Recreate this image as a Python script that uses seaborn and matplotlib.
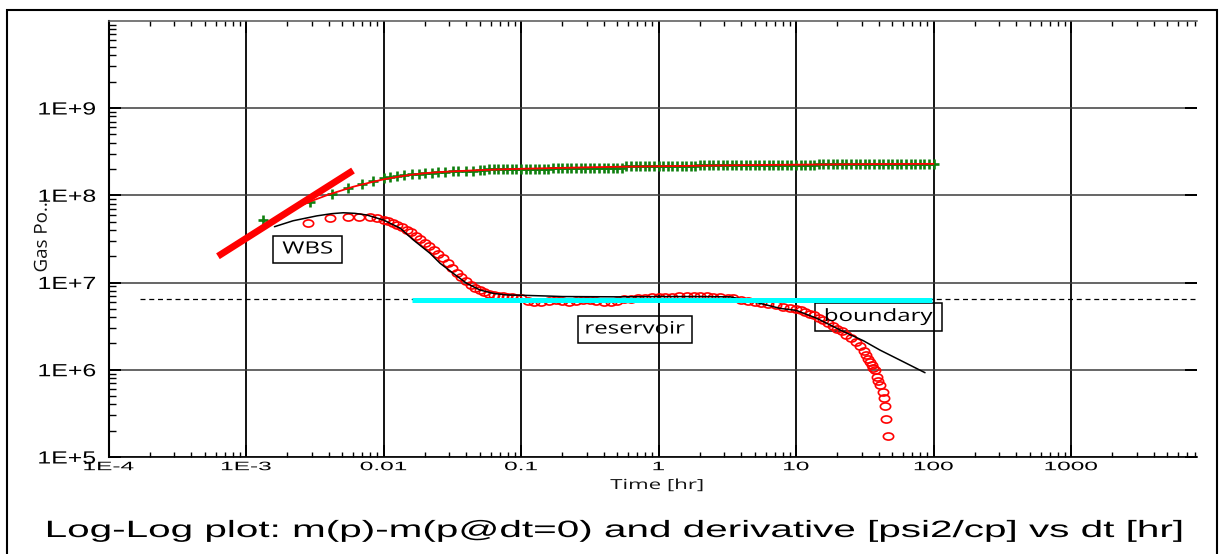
import matplotlib
matplotlib.use("Agg")
import matplotlib.pyplot as plt
import seaborn as sns
from matplotlib.patches import Rectangle
from matplotlib.path import Path
from matplotlib.markers import MarkerStyle
from matplotlib.patheffects import AbstractPathEffect
from matplotlib.transforms import Affine2D
from matplotlib.ticker import LogLocator, NullFormatter

# ---------------------------------------------------------------- data
# pressure change m(p)-m(p@dt=0) [psi2/cp] vs elapsed time [hr]
dp_time = [1.33e-3, 2.9e-3, 4.2e-3, 5.5e-3, 7.0e-3, 8.4e-3,
           0.010, 0.0112, 0.0125, 0.014, 0.016, 0.018, 0.020, 0.0225, 0.025, 0.028,
           0.032, 0.035, 0.040, 0.045, 0.050,
           0.0541, 0.0584, 0.0631, 0.0681, 0.0736, 0.0794, 0.0858, 0.0926,
           0.100, 0.108, 0.117, 0.126, 0.136, 0.147, 0.158,
           0.171, 0.185, 0.200, 0.215, 0.232, 0.251, 0.271, 0.293, 0.316, 0.341,
           0.369, 0.398, 0.430, 0.464, 0.501, 0.541,
           0.584, 0.631, 0.681, 0.736, 0.794, 0.858, 0.926, 1.00, 1.08, 1.17,
           1.26, 1.36, 1.47, 1.58, 1.71, 1.85,
           2.00, 2.15, 2.32, 2.51, 2.71, 2.93, 3.16, 3.41, 3.69, 3.98, 4.30, 4.64, 5.01,
           5.41, 5.84, 6.31, 6.81, 7.36, 7.94, 8.58, 9.26, 10.0, 10.8, 11.7, 12.6, 13.6,
           14.7, 15.8, 17.1, 18.5, 20.0, 21.5, 23.2, 25.1, 27.1, 29.3, 31.6, 34.1, 36.9,
           39.8, 43.0, 46.4, 50.1, 54.1, 58.4, 63.1, 68.1, 73.6, 79.4, 85.8, 92.6, 100.0]
dp_value = [5.2e7, 8.3e7, 1.03e8, 1.2e8, 1.35e8, 1.45e8,
            1.57e8, 1.62e8, 1.66e8, 1.70e8, 1.74e8, 1.77e8, 1.80e8, 1.82e8, 1.84e8, 1.86e8,
            1.88e8, 1.89e8, 1.91e8, 1.92e8, 1.93e8,
            1.94e8, 2.0e8, 2.0e8, 2.0e8, 2.0e8, 2.0e8, 2.0e8, 2.0e8,
            2.0e8, 2.0e8, 2.0e8, 2.0e8, 2.0e8, 2.0e8, 2.0e8,
            2.07e8, 2.07e8, 2.07e8, 2.07e8, 2.07e8, 2.07e8, 2.07e8, 2.07e8, 2.07e8, 2.07e8,
            2.07e8, 2.07e8, 2.07e8, 2.07e8, 2.07e8, 2.07e8,
            2.14e8, 2.14e8, 2.14e8, 2.14e8, 2.14e8, 2.14e8, 2.14e8, 2.14e8, 2.14e8, 2.14e8,
            2.14e8, 2.14e8, 2.14e8, 2.14e8, 2.14e8, 2.14e8,
            2.22e8, 2.22e8, 2.22e8, 2.22e8, 2.22e8, 2.22e8, 2.22e8, 2.22e8, 2.22e8, 2.22e8,
            2.22e8, 2.22e8, 2.22e8,
            2.22e8, 2.22e8, 2.22e8, 2.22e8, 2.22e8, 2.22e8, 2.22e8, 2.22e8, 2.22e8, 2.22e8,
            2.22e8, 2.22e8, 2.22e8,
            2.28e8, 2.28e8, 2.28e8, 2.28e8, 2.28e8, 2.28e8, 2.28e8, 2.28e8, 2.28e8, 2.28e8,
            2.28e8, 2.28e8, 2.28e8,
            2.28e8, 2.28e8, 2.28e8, 2.28e8, 2.28e8, 2.28e8, 2.28e8, 2.28e8, 2.28e8, 2.28e8,
            2.28e8, 2.28e8, 2.28e8]

# model pressure change
model_dp_time = [2.4e-3, 3e-3, 4e-3, 5e-3, 6e-3, 7e-3, 8e-3, 0.01, 0.013, 0.016, 0.02,
                 0.025, 0.03, 0.04, 0.05, 0.07, 0.1, 0.2, 0.3, 0.5, 1.0, 2.0, 3.0,
                 5.0, 10.0, 20.0, 30.0, 50.0, 100.0]
model_dp_value = [7.4e7, 8.6e7, 1.02e8, 1.14e8, 1.25e8, 1.33e8, 1.40e8, 1.52e8, 1.64e8,
                  1.72e8, 1.79e8, 1.84e8, 1.87e8, 1.91e8, 1.94e8, 1.98e8, 2.01e8, 2.06e8,
                  2.09e8, 2.12e8, 2.15e8, 2.18e8, 2.20e8, 2.22e8, 2.24e8, 2.26e8, 2.27e8,
                  2.28e8, 2.29e8]

# Bourdet derivative of the measured data
der_time = [2.83e-3, 4.1e-3, 5.5e-3, 6.6e-3, 8.0e-3, 9.0e-3,
            0.0100, 0.0108, 0.0117, 0.0126, 0.0136, 0.0147, 0.0158, 0.0171, 0.0185, 0.0200,
            0.0215, 0.0232, 0.0251, 0.0271, 0.0293, 0.0316, 0.0341, 0.0369, 0.0398, 0.0430,
            0.0464, 0.0501, 0.0541, 0.0584, 0.0631, 0.0681, 0.0736, 0.0794, 0.0858, 0.0926,
            0.10, 0.112, 0.125, 0.14, 0.16, 0.18, 0.20, 0.225, 0.25, 0.28,
            0.32, 0.35, 0.40, 0.45, 0.50, 0.56, 0.63, 0.71, 0.80, 0.90,
            1.0, 1.12, 1.25, 1.4, 1.6, 1.8, 2.0, 2.25, 2.5, 2.8,
            3.2, 3.5, 4.0, 4.5, 5.0, 5.6, 6.3, 7.1, 8.0, 9.0,
            10.0, 10.8, 11.7, 12.6, 13.6, 14.7, 15.8, 17.1, 18.5, 20.0,
            21.5, 23.2, 25.1, 27.1, 29.3, 31.0, 32.5, 33.6, 34.5, 35.5,
            36.5, 37.6, 38.6, 39.5, 40.8, 42.7, 43.6, 44.4, 45.2, 46.9]
der_value = [4.8e7, 5.5e7, 5.65e7, 5.65e7, 5.6e7, 5.45e7,
             5.2e7, 5.05e7, 4.85e7, 4.58e7, 4.3e7, 4.0e7, 3.75e7, 3.45e7, 3.15e7, 2.87e7,
             2.62e7, 2.36e7, 2.1e7, 1.9e7, 1.68e7, 1.48e7, 1.3e7, 1.16e7, 1.04e7, 9.4e6,
             8.7e6, 8.2e6, 7.75e6, 7.4e6, 7.2e6, 7.05e6, 6.95e6, 6.9e6, 6.8e6, 6.7e6,
             6.6e6, 6.2e6, 6.0e6, 5.9e6, 6.1e6, 6.3e6, 6.2e6, 6.0e6, 6.1e6, 6.35e6,
             6.3e6, 6.1e6, 6.0e6, 6.05e6, 6.2e6, 6.4e6, 6.5e6, 6.6e6, 6.7e6, 6.8e6,
             6.85e6, 6.9e6, 6.9e6, 6.95e6, 6.95e6, 6.95e6, 7.0e6, 6.95e6, 6.9e6, 6.8e6,
             6.7e6, 6.6e6, 6.3e6, 6.1e6, 5.95e6, 5.85e6, 5.7e6, 5.45e6, 5.3e6, 5.15e6,
             5.0e6, 4.8e6, 4.6e6, 4.4e6, 4.2e6, 3.95e6, 3.7e6, 3.4e6, 3.15e6, 2.95e6,
             2.75e6, 2.5e6, 2.3e6, 2.07e6, 1.85e6, 1.62e6, 1.48e6, 1.32e6, 1.22e6, 1.13e6,
             1.05e6, 9.9e5, 8.3e5, 7.5e5, 6.7e5, 5.6e5, 4.7e5, 3.8e5, 2.7e5, 1.74e5]

# model derivative
model_der_time = [1.61e-3, 2.2e-3, 3.27e-3, 4.2e-3, 5.1e-3, 6.2e-3, 7.55e-3, 0.01, 0.0132,
                  0.0165, 0.0218, 0.0258, 0.0322, 0.0402, 0.0503, 0.063, 0.0787, 0.098,
                  0.154, 0.2, 0.5, 1.0, 2.0, 3.3, 4.38, 7.66, 10.0, 14.1, 20.9, 30.9,
                  40.8, 57.0, 71.3, 86.7]
model_der_value = [4.36e7, 5.1e7, 5.8e7, 6.15e7, 6.3e7, 6.2e7, 5.94e7, 5.2e7, 4.2e7,
                   3.07e7, 2.16e7, 1.66e7, 1.27e7, 9.8e6, 8.2e6, 7.5e6, 7.2e6, 7.15e6,
                   7.0e6, 6.9e6, 6.85e6, 6.9e6, 6.9e6, 6.85e6, 6.3e6, 5.05e6, 4.8e6,
                   3.9e6, 2.86e6, 2.15e6, 1.68e6, 1.29e6, 1.08e6, 9.25e5]

# straight-line diagnostics
wbs_time = [6.25e-4, 6.0e-3]            # unit slope, wellbore storage
wbs_value = [2.0e7, 1.92e8]
radial_time = [0.0161, 98.0]            # radial flow stabilisation
radial_value = [6.28e6, 6.28e6]
level_time = [1.7e-4, 8.2e3]            # dashed derivative level
level_value = [6.46e6, 6.46e6]

x_ticks = [1e-4, 1e-3, 1e-2, 1e-1, 1, 10, 100, 1000]
x_tick_labels = ["1E-4", "1E-3", "0.01", "0.1", "1", "10", "100", "1000"]
y_ticks = [1e5, 1e6, 1e7, 1e8, 1e9]
y_tick_labels = ["1E+5", "1E+6", "1E+7", "1E+8", "1E+9"]

title_text = "Log-Log plot: m(p)-m(p@dt=0) and derivative [psi2/cp] vs dt [hr]"


# ---------------------------------------------------------------- helpers
class Widen(AbstractPathEffect):
    """Draw text stretched horizontally about its left/centre/right edge."""

    def __init__(self, sx, anchor="center"):
        super().__init__()
        self._sx = sx
        self._anchor = anchor

    def draw_path(self, renderer, gc, tpath, affine, rgbFace=None):
        ext = tpath.get_extents(affine)
        if self._anchor == "left":
            x0 = ext.x0
        elif self._anchor == "right":
            x0 = ext.x1
        else:
            x0 = 0.5 * (ext.x0 + ext.x1)
        widen = Affine2D().translate(-x0, 0).scale(self._sx, 1.0).translate(x0, 0)
        renderer.draw_path(gc, tpath, affine + widen, rgbFace)


W, H = 1222, 554


def fx(x):
    return x / W


def fy(y):
    return 1 - y / H


# ---------------------------------------------------------------- figure
sns.set_theme(style="white")
plt.rcParams["font.family"] = ["Liberation Sans", "DejaVu Sans"]

fig = plt.figure(figsize=(W / 100, H / 100), dpi=100)
fig.patch.set_facecolor("white")
ax = fig.add_axes([fx(108.5), fy(457), fx(1196.7) - fx(108.5), fy(20.75) - fy(457)])
ax.set_facecolor("white")
ax.set_xscale("log")
ax.set_yscale("log")

ellipse = MarkerStyle(Affine2D().scale(1.45, 1.0).transform_path(Path.unit_circle()))

sns.lineplot(x=level_time, y=level_value, ax=ax, color="black", lw=0.9,
             linestyle=(0, (4, 3)), estimator=None, sort=False, zorder=2.0)
sns.lineplot(x=dp_time, y=dp_value, ax=ax, marker="+", linestyle="", color="#0f800f",
             markeredgecolor="#0f800f", markersize=6.5, markeredgewidth=1.9,
             estimator=None, sort=False, zorder=2.1)
sns.lineplot(x=model_dp_time, y=model_dp_value, ax=ax, color="#ff0000", lw=1.3,
             estimator=None, sort=False, zorder=2.2)
sns.lineplot(x=der_time, y=der_value, ax=ax, marker=ellipse, linestyle="", color="#ff0000",
             markerfacecolor="none", markeredgecolor="#ff0000", markersize=7.4,
             markeredgewidth=1.2, estimator=None, sort=False, zorder=2.3)
sns.lineplot(x=model_der_time, y=model_der_value, ax=ax, color="black", lw=1.1,
             estimator=None, sort=False, zorder=2.4)
sns.lineplot(x=radial_time, y=radial_value, ax=ax, color="#00ffff", lw=3.6,
             estimator=None, sort=False, zorder=2.5, solid_capstyle="butt")
sns.lineplot(x=wbs_time, y=wbs_value, ax=ax, color="#ff0000", lw=4.9,
             estimator=None, sort=False, zorder=2.6, solid_capstyle="butt")

ax.set_xlim(1e-4, 8.2e3)
ax.set_ylim(1e5, 1e10)
ax.set_xlabel("")
ax.set_ylabel("")

ax.set_xticks(x_ticks, x_tick_labels)
ax.set_yticks(y_ticks, y_tick_labels)
ax.xaxis.set_minor_locator(LogLocator(base=10, subs=range(2, 10), numticks=50))
ax.yaxis.set_minor_locator(LogLocator(base=10, subs=range(2, 10), numticks=50))
ax.xaxis.set_minor_formatter(NullFormatter())
ax.yaxis.set_minor_formatter(NullFormatter())

ax.grid(True, which="major", axis="x", color="black", lw=1.3)
ax.grid(True, which="major", axis="y", color="#3c3c3c", lw=1.1)
ax.set_axisbelow(True)

ax.tick_params(which="major", direction="in", length=8.5, width=1.4, color="black",
               top=True, bottom=True, left=True, right=True)
ax.tick_params(axis="x", which="minor", direction="in", length=3.6, width=1.0,
               color="black", top=True, bottom=True)
ax.tick_params(axis="y", which="minor", direction="in", length=5.0, width=1.0,
               color="black", left=True, right=False)
ax.tick_params(axis="y", which="major", labelsize=12.7, pad=9, labelcolor="black")
ax.tick_params(axis="x", which="major", labelsize=8.8, pad=3, labelcolor="black")

for side in ("left", "bottom", "top"):
    ax.spines[side].set_visible(True)
ax.spines["left"].set_color("black")
ax.spines["left"].set_linewidth(1.5)
ax.spines["bottom"].set_color("black")
ax.spines["bottom"].set_linewidth(1.2)
ax.spines["top"].set_color("#555555")
ax.spines["top"].set_linewidth(1.1)
ax.spines["right"].set_visible(False)

# labelled boxes for the flow regimes
annot_font = dict(family=["Open Sans", "DejaVu Sans"], fontsize=12.2, color="black")
regimes = [("WBS", 273, 236, 342, 263),
           ("reservoir", 578, 316, 692, 343),
           ("boundary", 815, 303, 942, 331)]
regime_texts = []
for label, x0, y0, x1, y1 in regimes:
    ax.add_patch(Rectangle((fx(x0), fy(y1)), fx(x1) - fx(x0), fy(y0) - fy(y1),
                           transform=fig.transFigure, fill=False, ec="black", lw=1.1,
                           clip_on=False, zorder=1.8))
    t = ax.text(fx((x0 + x1) / 2), fy((y0 + y1) / 2), label, transform=fig.transFigure,
                ha="center", va="center", zorder=3, **annot_font)
    regime_texts.append(t)

xlabel = fig.text(fx(657), fy(489), "Time [hr]", ha="center", va="baseline",
                  family=["Open Sans", "DejaVu Sans"], fontsize=10, color="#111111")
ylabel = fig.text(fx(42), fy(235), "Gas Po...", ha="center", va="center", rotation=90,
                  family=["Open Sans", "DejaVu Sans"], fontsize=13.5, color="#111111")
title = fig.text(fx(615.5), fy(537), title_text, ha="center", va="baseline",
                 fontsize=17, color="black")

# outer frame
fig.add_artist(Rectangle((fx(7), -0.05), fx(1217) - fx(7), fy(10) + 0.05,
                         transform=fig.transFigure, fill=False, ec="black", lw=1.5,
                         clip_on=False))

# widen the lettering
fig.canvas.draw()
renderer = fig.canvas.get_renderer()
title_w = title.get_window_extent(renderer).width
title.set_path_effects([Widen(1143 / title_w)])
for lab in ax.get_yticklabels():
    lab.set_path_effects([Widen(1.41, "right")])
for lab in ax.get_xticklabels():
    lab.set_path_effects([Widen(2.0, "center")])
for t in regime_texts:
    t.set_path_effects([Widen(1.42, "center")])
xlabel.set_path_effects([Widen(1.6, "center")])
ylabel.set_path_effects([Widen(0.95, "center")])

fig.savefig("out.png", dpi=100, facecolor="white")
